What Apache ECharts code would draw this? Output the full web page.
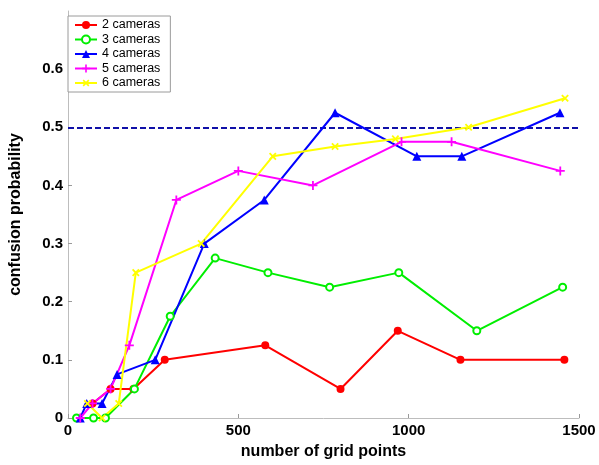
<!DOCTYPE html>
<html>
<head>
<meta charset="utf-8">
<script src="https://cdn.jsdelivr.net/npm/echarts@6/dist/echarts.min.js"></script>
<style>
  html, body { margin: 0; padding: 0; background: #fff; }
  #chart { width: 599px; height: 465px; }
</style>
</head>
<body>
<div id="chart"></div>
<script>
// [grid points, confusion probability] per camera count
const cams2 = [[72,0.025],[125,0.05],[192,0.05],[284,0.1],[579,0.125],[800,0.05],[968,0.15],[1152,0.1],[1457,0.1]];
const cams3 = [[25,0],[75,0],[110,0],[195,0.05],[300,0.175],[432,0.275],[587,0.25],[768,0.225],[971,0.25],[1200,0.15],[1452,0.225]];
const cams4 = [[36,0],[55,0.025],[100,0.025],[144,0.075],[256,0.1],[400,0.3],[576,0.375],[784,0.525],[1024,0.45],[1156,0.45],[1444,0.525]];
const cams5 = [[36,0],[72,0.025],[125,0.05],[180,0.125],[318,0.375],[500,0.425],[719,0.4],[979,0.475],[1126,0.475],[1445,0.425]];
const cams6 = [[57,0.025],[100,0],[149,0.025],[199,0.25],[391,0.3],[601,0.45],[784,0.467],[961,0.48],[1176,0.5],[1459,0.55]];

const seriesNames = ['2 cameras', '3 cameras', '4 cameras', '5 cameras', '6 cameras'];
const threshold = 0.5;
const xTicks = [0, 500, 1000, 1500];
const yTicks = [0, 0.1, 0.2, 0.3, 0.4, 0.5, 0.6];

const FONT = 'Liberation Sans, Arial, sans-serif';
const PLUS = 'path://M4,0H6V4H10V6H6V10H4V6H0V4H4Z';

function lineSeries(name, data, color, symbol, opts) {
  return Object.assign({
    name: name,
    type: 'line',
    data: data,
    color: color,
    symbol: symbol,
    symbolSize: 8,
    showAllSymbol: true,
    lineStyle: { color: color, width: 2 },
    itemStyle: { color: color },
    z: 3
  }, opts || {});
}

const chart = echarts.init(document.getElementById('chart'), null, { renderer: 'canvas' });

chart.setOption({
  animation: false,
  backgroundColor: '#ffffff',
  textStyle: { fontFamily: FONT },
  grid: { left: 62, right: 20, top: 11, bottom: 46.5, containLabel: false },
  legend: {
    orient: 'vertical',
    left: 68,
    top: 16,
    padding: [2, 10, 2, 6],
    itemGap: 0.5,
    itemWidth: 22,
    itemHeight: 10,
    backgroundColor: '#ffffff',
    borderColor: '#9a9a9a',
    borderWidth: 1,
    textStyle: { fontFamily: FONT, fontSize: 12.5, color: '#000', lineHeight: 14, padding: [0, 0, 0, 0] },
    data: seriesNames
  },
  xAxis: {
    type: 'value',
    min: 0,
    max: 1500,
    interval: 500,
    name: 'number of grid points',
    nameLocation: 'middle',
    nameGap: 26,
    nameTextStyle: { fontFamily: FONT, fontSize: 16, fontWeight: 'bold', color: '#000' },
    axisLine: { show: true, lineStyle: { color: '#bdbdbd', width: 1 } },
    axisTick: { show: true, inside: true, length: 4, lineStyle: { color: '#9a9a9a' }, customValues: xTicks },
    axisLabel: {
      fontFamily: FONT, fontSize: 15, fontWeight: 'bold', color: '#000', margin: 5,
      customValues: xTicks,
      formatter: v => String(Math.round(v))
    },
    splitLine: { show: false }
  },
  yAxis: {
    type: 'value',
    min: 0,
    max: 0.7,
    interval: 0.1,
    name: 'confusion probability',
    nameLocation: 'middle',
    nameGap: 44,
    nameTextStyle: { fontFamily: FONT, fontSize: 16, fontWeight: 'bold', color: '#000' },
    axisLine: { show: true, lineStyle: { color: '#bdbdbd', width: 1 } },
    axisTick: { show: true, inside: true, length: 4, lineStyle: { color: '#9a9a9a' }, customValues: yTicks },
    axisLabel: {
      fontFamily: FONT, fontSize: 15, fontWeight: 'bold', color: '#000', margin: 5,
      customValues: yTicks,
      formatter: v => (Math.round(v * 10) / 10).toString()
    },
    splitLine: { show: false }
  },
  series: [
    lineSeries(seriesNames[0], cams2, '#ff0000', 'circle', {
      markLine: {
        silent: true,
        symbol: ['none', 'none'],
        label: { show: false },
        lineStyle: { color: '#1010a8', width: 2, type: [6, 3] },
        data: [{ yAxis: threshold }],
        z: 1
      }
    }),
    lineSeries(seriesNames[1], cams3, '#00ee00', 'emptyCircle', {
      itemStyle: { color: '#00ee00', borderColor: '#00ee00', borderWidth: 2 },
      symbolSize: 7
    }),
    lineSeries(seriesNames[2], cams4, '#0000ff', 'triangle', { symbolSize: 9 }),
    lineSeries(seriesNames[3], cams5, '#ff00ff', PLUS, { symbolSize: 9 }),
    lineSeries(seriesNames[4], cams6, '#ffff00', PLUS, { symbolSize: 9, symbolRotate: 45 })
  ]
});
</script>
</body>
</html>
